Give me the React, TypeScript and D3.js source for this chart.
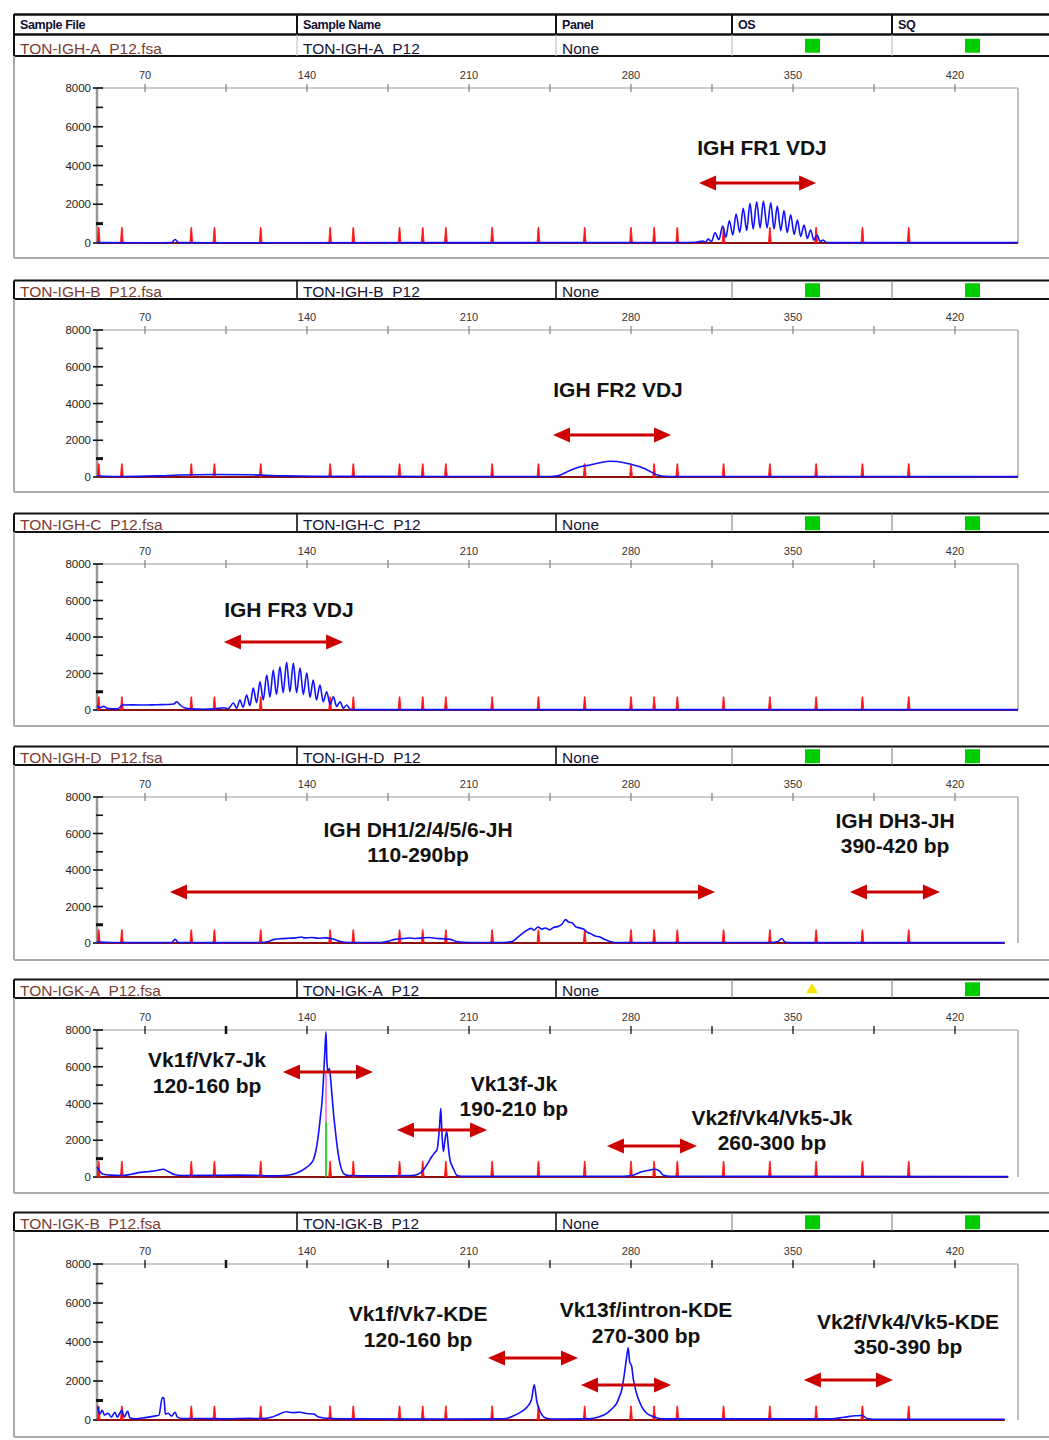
import React from 'react';
import * as d3 from 'd3';

type Pt = [number, number];

// ---------- DATA ----------
const ladderSizes = [50, 60, 90, 100, 120, 150, 160, 180, 190, 200, 220, 240, 260, 280, 290, 300, 320, 340, 360, 380, 400];
const ladderHeights = [800, 720, 720, 720, 850, 720];
const xTickLabels = [70, 140, 210, 280, 350, 420];
const xMinorTicks = [105, 175, 245, 315, 385];
const yTickLabels = [0, 2000, 4000, 6000, 8000];
const yMinorTicks = [1000, 3000, 5000, 7000];

const headerColumns = ['Sample File', 'Sample Name', 'Panel', 'OS', 'SQ'];
const sampleFiles = ['TON-IGH-A_P12.fsa', 'TON-IGH-B_P12.fsa', 'TON-IGH-C_P12.fsa', 'TON-IGH-D_P12.fsa', 'TON-IGK-A_P12.fsa', 'TON-IGK-B_P12.fsa'];
const sampleNames = ['TON-IGH-A_P12', 'TON-IGH-B_P12', 'TON-IGH-C_P12', 'TON-IGH-D_P12', 'TON-IGK-A_P12', 'TON-IGK-B_P12'];
const panelNames = ['None', 'None', 'None', 'None', 'None', 'None'];
const osStatus = ['pass', 'pass', 'pass', 'pass', 'warn', 'pass'];
const sqStatus = ['pass', 'pass', 'pass', 'pass', 'pass', 'pass'];

const traceIGHA: Pt[] = [
  [49.3, 60], [50.5, 20], [70, 15], [81.5, 20], [83, 180], [84.5, 20], [100, 15], [200, 20], [300, 25], [308, 40],
  [311.1, 100], [312.2, 40], [313.3, 200], [314.8, 80], [316.3, 530], [318, 180], [319.6, 880], [321, 300],
  [322.5, 1150], [324, 420], [325.4, 1500], [327, 550], [328.5, 1790], [330, 650], [331.4, 2050], [332.8, 720],
  [334.3, 2130], [335.8, 780], [337.2, 2170], [338.8, 780], [340.4, 2080], [341.8, 720], [343.2, 1910], [344.7, 640],
  [346.1, 1670], [347.5, 540], [349, 1450], [350.5, 440], [351.9, 1190], [353.3, 340], [354.8, 930], [356.2, 240],
  [357.6, 670], [359, 150], [360.4, 410], [361.7, 80], [363, 150], [364.5, 20], [400, 20], [447.2, 20],
];

const traceIGHB: Pt[] = [
  [49.3, 80], [52, 40], [60, 30], [75, 60], [85, 110], [100, 140], [115, 120], [130, 60], [150, 40], [200, 30],
  [245, 30], [248, 60], [250.2, 150], [253, 320], [256, 480], [259, 580], [262.3, 650], [265, 730], [268, 820],
  [271, 860], [274, 840], [277, 780], [280, 690], [283.9, 560], [286.5, 420], [289, 250], [291.2, 120], [294, 40],
  [300, 25], [447.2, 20],
];

const traceIGHC: Pt[] = [
  [49.3, 250], [50.5, 120], [52, 200], [54, 80], [58, 60], [60.5, 270], [65, 280], [70, 270], [75, 290], [80, 300],
  [82.5, 330], [83.7, 450], [85, 300], [87, 120], [90, 60], [95, 40], [100, 60], [104, 120], [106, 80],
  [108.2, 380], [109.6, 100], [111, 550], [112.4, 150], [113.9, 820], [115.3, 250], [116.8, 1200], [118.2, 400],
  [119.7, 1550], [121.1, 550], [122.6, 1920], [124, 700], [125.4, 2190], [126.8, 850], [128.3, 2370], [129.7, 950],
  [131.2, 2620], [132.6, 1000], [134.1, 2570], [135.5, 950], [137, 2300], [138.4, 850], [139.9, 2030], [141.3, 700],
  [142.7, 1640], [144.1, 550], [145.6, 1370], [147, 450], [148.5, 1000], [150, 300], [151.4, 730], [152.8, 200],
  [154.3, 450], [155.7, 100], [157.2, 270], [158.6, 40], [162, 20], [447.2, 20],
];

const traceIGHD: Pt[] = [
  [49.3, 60], [55, 30], [70, 20], [81.5, 30], [83, 200], [84.5, 30], [100, 20], [120, 30], [123.7, 100], [126, 200],
  [129, 240], [132, 260], [135, 280], [137.6, 330], [139, 280], [142, 300], [145, 260], [148, 280], [151, 230],
  [154.5, 80], [158, 30], [172, 30], [175.3, 100], [178, 200], [181, 240], [184, 270], [187, 250], [190, 280],
  [193, 300], [196, 250], [199, 230], [202, 200], [205.1, 60], [210, 30], [225, 30], [228.9, 100], [230.9, 300],
  [232.9, 500], [234.5, 650], [236.9, 800], [238, 700], [239.9, 880], [241.5, 760], [243, 820], [244.8, 720],
  [246.5, 850], [248.8, 920], [250.3, 1050], [251.7, 1280], [253, 1150], [254.7, 1100], [256, 900], [258, 820],
  [259.7, 750], [261, 600], [262.7, 500], [264.5, 380], [266.6, 330], [268.5, 200], [270.6, 100], [273, 30],
  [340, 30], [343.5, 80], [345.1, 250], [346.5, 60], [349, 20], [441.5, 20],
];

const traceIGKA: Pt[] = [
  [49.3, 550], [50.5, 300], [52, 150], [55, 100], [60, 80], [64, 150], [68, 250], [72, 300], [75, 350], [77.8, 420],
  [80, 300], [83, 120], [86, 80], [100, 90], [110, 100], [120, 80], [125, 60], [130, 80], [134, 150], [137, 300],
  [139.5, 500], [141.3, 680], [142.8, 950], [143.8, 1400], [144.6, 2000], [145.3, 2700], [145.9, 3400], [146.5, 4100],
  [147.1, 5300], [147.7, 6800], [148.2, 7900], [148.6, 6300], [149.1, 5700], [149.7, 5900], [150.3, 5200],
  [150.9, 4300], [151.5, 3400], [152.1, 2700], [152.8, 1900], [153.5, 1250], [154.3, 700], [155.2, 330],
  [156.2, 150], [158, 80], [170, 60], [185, 80], [188, 150], [190.3, 380], [192, 700], [193.9, 1100], [195, 1300],
  [196.2, 1500], [197.3, 2800], [197.8, 3740], [198.3, 2400], [198.9, 1380], [199.6, 2000], [200.4, 2470],
  [201.1, 1600], [201.8, 925], [202.7, 600], [203.5, 380], [204.7, 100], [207, 40], [276, 40], [281, 100],
  [284, 260], [287, 350], [290.4, 420], [292.5, 300], [294, 100], [297, 40], [443, 20],
];

const traceIGKB: Pt[] = [
  [49.5, 700], [50.5, 300], [51.5, 500], [52.5, 250], [54, 350], [55.5, 150], [57, 400], [58, 150], [60, 500],
  [61, 150], [62.5, 450], [63.5, 100], [66, 60], [70, 120], [74, 200], [76, 250], [77.5, 1150], [78.2, 1100],
  [78.8, 300], [80, 350], [81.5, 200], [83, 400], [84, 150], [86, 80], [95, 80], [105, 60], [115, 90], [120, 70],
  [125, 150], [128, 300], [131, 420], [134, 380], [137, 400], [140, 330], [143, 300], [145, 150], [150, 80],
  [160, 60], [200, 50], [225, 60], [229, 200], [232, 380], [235, 650], [237, 1050], [238.2, 1800], [239.3, 950],
  [240.7, 450], [242.8, 120], [246, 50], [262, 60], [266, 150], [269.5, 340], [272, 600], [273.8, 850], [275, 1200],
  [276, 1550], [276.8, 2100], [277.4, 2600], [278.2, 3300], [278.8, 3700], [279.4, 3000], [280.3, 2750], [281, 2100],
  [281.7, 1700], [282.8, 1200], [283.9, 870], [285.3, 550], [286.7, 360], [289.6, 180], [293, 60], [366, 60],
  [372, 140], [377, 220], [380, 230], [382, 80], [385, 40], [441.5, 40],
];

const traces: Pt[][] = [traceIGHA, traceIGHB, traceIGHC, traceIGHD, traceIGKA, traceIGKB];

// other-dye marker in IGK-A
const greenMarker = { panel: 4, size: 148.2, green: 3000, magenta: 5600 };

// ---------- LAYOUT ----------
const W = 1049;
const H = 1440;
const colX = [14, 297, 556, 732, 892];
const font = '"Liberation Sans", Arial, Helvetica, sans-serif';

const panelLayouts = [
  { rowTop: 34.5, rowBottom: 56, plotTop: 88, plotBottom: 243, frameBottom: 258, darkTicks: false },
  { rowTop: 280.5, rowBottom: 299, plotTop: 330, plotBottom: 477, frameBottom: 492, darkTicks: false },
  { rowTop: 513.5, rowBottom: 532, plotTop: 564, plotBottom: 710, frameBottom: 726, darkTicks: false },
  { rowTop: 746.5, rowBottom: 765, plotTop: 797, plotBottom: 943, frameBottom: 960, darkTicks: false },
  { rowTop: 979.5, rowBottom: 998, plotTop: 1030, plotBottom: 1177, frameBottom: 1193, darkTicks: true },
  { rowTop: 1212.5, rowBottom: 1231, plotTop: 1264, plotBottom: 1420, frameBottom: 1437, darkTicks: true },
];

type Label = { text: string; x: number; y: number };
type Arrow = { x0: number; x1: number; y: number };
const panelLabels: Label[][] = [
  [{ text: 'IGH FR1 VDJ', x: 336.6, y: 4542 }],
  [{ text: 'IGH FR2 VDJ', x: 274.4, y: 4354 }],
  [{ text: 'IGH FR3 VDJ', x: 132.2, y: 5096 }],
  [
    { text: 'IGH DH1/2/4/5/6-JH', x: 188, y: 5808 },
    { text: '110-290bp', x: 188, y: 4438 },
    { text: 'IGH DH3-JH', x: 394.1, y: 6301 },
    { text: '390-420 bp', x: 394.1, y: 4932 },
  ],
  [
    { text: 'Vk1f/Vk7-Jk', x: 96.8, y: 5986 },
    { text: '120-160 bp', x: 96.8, y: 4571 },
    { text: 'Vk13f-Jk', x: 229.4, y: 4680 },
    { text: '190-210 bp', x: 229.4, y: 3320 },
    { text: 'Vk2f/Vk4/Vk5-Jk', x: 340.9, y: 2830 },
    { text: '260-300 bp', x: 340.9, y: 1469 },
  ],
  [
    { text: 'Vk1f/Vk7-KDE', x: 188, y: 5077 },
    { text: '120-160 bp', x: 188, y: 3744 },
    { text: 'Vk13f/intron-KDE', x: 286.5, y: 5282 },
    { text: '270-300 bp', x: 286.5, y: 3949 },
    { text: 'Vk2f/Vk4/Vk5-KDE', x: 399.7, y: 4667 },
    { text: '350-390 bp', x: 399.7, y: 3385 },
  ],
];
const panelArrows: Arrow[][] = [
  [{ x0: 309.4, x1: 360, y: 3097 }],
  [{ x0: 246.3, x1: 297.3, y: 2286 }],
  [{ x0: 104.1, x1: 155.6, y: 3726 }],
  [{ x0: 80.8, x1: 316.3, y: 2795 }, { x0: 374.6, x1: 413.5, y: 2795 }],
  [{ x0: 129.6, x1: 168.5, y: 5714 }, { x0: 178.9, x1: 217.8, y: 2558 }, { x0: 269.6, x1: 308.5, y: 1687 }],
  [{ x0: 218.2, x1: 257.1, y: 3179 }, { x0: 258.4, x1: 297.3, y: 1795 }, { x0: 354.7, x1: 393.2, y: 2051 }],
];

const x = d3.scaleLinear().domain([70, 420]).range([145, 955]);
const xLeft = 97;
const xRight = 1018;

function StatusMark({ status, cx, y }: { status: string; cx: number; y: number }) {
  if (status === 'warn') {
    return <path d={`M${cx - 6},${y + 11} L${cx},${y + 1} L${cx + 6},${y + 11} Z`} fill="#f5e600" />;
  }
  return <rect x={cx - 7} y={y} width={15} height={14} fill="#00cc00" />;
}

function Panel({ i }: { i: number }) {
  const L = panelLayouts[i];
  const y = d3.scaleLinear().domain([0, 8000]).range([L.plotBottom, L.plotTop]);
  const line = d3.line<Pt>().x((d) => x(d[0])).y((d) => y(d[1])).curve(d3.curveMonotoneX);
  const trace = traces[i];
  const tickColor = L.darkTicks ? '#111' : '#888';
  const lh = ladderHeights[i];
  const spike = d3.line<Pt>().x((d) => x(d[0])).y((d) => y(d[1]));
  const textY = L.rowBottom - 2.5;
  const cellLine = i === 0 ? '#bbb' : '#777';
  return (
    <g>
      {/* data row text (drawn first so the border hides the underscores as in the source) */}
      <text x={20} y={textY} fontSize={15.5} fill="#7a3d33" fontFamily={font}>{sampleFiles[i]}</text>
      <text x={303} y={textY} fontSize={15.5} fill="#15153a" fontFamily={font}>{sampleNames[i]}</text>
      <text x={562} y={textY} fontSize={15.5} fill="#15153a" fontFamily={font}>{panelNames[i]}</text>
      <StatusMark status={osStatus[i]} cx={812} y={L.rowTop + (L.rowBottom - L.rowTop - 14) / 2 + 0.5} />
      <StatusMark status={sqStatus[i]} cx={972} y={L.rowTop + (L.rowBottom - L.rowTop - 14) / 2 + 0.5} />
      <line x1={14} x2={W} y1={L.rowTop} y2={L.rowTop} stroke="#111" strokeWidth={i === 0 ? 2.5 : 2} />
      <line x1={14} x2={W} y1={L.rowBottom} y2={L.rowBottom} stroke="#111" strokeWidth={2.2} />
      <line x1={14} x2={14} y1={L.rowTop} y2={L.rowBottom} stroke="#111" strokeWidth={2} />
      {colX.slice(1).map((cx, k) => (
        <line key={k} x1={cx} x2={cx} y1={L.rowTop} y2={L.rowBottom}
          stroke={k < 2 && i > 0 ? '#111' : cellLine} strokeWidth={k < 2 && i > 0 ? 1.6 : 1} />
      ))}

      {/* outer frame */}
      <line x1={14} x2={14} y1={L.rowBottom} y2={L.frameBottom} stroke="#aaa" strokeWidth={2} />
      <line x1={14} x2={W} y1={L.frameBottom} y2={L.frameBottom} stroke="#aaa" strokeWidth={2} />

      {/* plot frame */}
      <line x1={xLeft} x2={xRight} y1={L.plotTop} y2={L.plotTop} stroke="#999" strokeWidth={1.2} />
      <line x1={xRight} x2={xRight} y1={L.plotTop} y2={L.plotBottom} stroke="#aaa" strokeWidth={1.5} />
      <line x1={xLeft} x2={xLeft} y1={L.plotTop} y2={L.plotBottom} stroke="#999" strokeWidth={2.5} />

      {/* x axis ticks on top */}
      {xTickLabels.map((t) => (
        <g key={'xt' + t}>
          <line x1={x(t)} x2={x(t)} y1={L.plotTop - 4} y2={L.plotTop + 4} stroke={tickColor} strokeWidth={1.3} />
          <text x={x(t)} y={L.plotTop - 9} fontSize={11} fill="#333" textAnchor="middle" fontFamily={font}>{t}</text>
        </g>
      ))}
      {xMinorTicks.map((t) => (
        <line key={'xm' + t} x1={x(t)} x2={x(t)} y1={L.plotTop - 4} y2={L.plotTop + 4} stroke={tickColor}
          strokeWidth={L.darkTicks && t === 105 ? 2.5 : 1.3} />
      ))}
      {/* y axis */}
      {yTickLabels.map((t) => (
        <g key={'yt' + t}>
          <line x1={93} x2={103} y1={y(t)} y2={y(t)} stroke="#111" strokeWidth={1.6} />
          <text x={91} y={y(t) + 4} fontSize={11.5} fill="#222" textAnchor="end" fontFamily={font}>{t}</text>
        </g>
      ))}
      {yMinorTicks.map((t) => (
        <line key={'ym' + t} x1={96} x2={103} y1={y(t)} y2={y(t)} stroke="#111" strokeWidth={t === 1000 ? 3 : 1.6} />
      ))}

      {/* baseline */}
      <line x1={x(trace[0][0])} x2={x(trace[trace.length - 1][0])} y1={y(0)} y2={y(0)} stroke="#8b1010" strokeWidth={2} />

      {/* size-standard peaks */}
      {ladderSizes.map((s) => (
        <path key={'ld' + s}
          d={spike([[s - 0.6, 0], [s - 0.15, lh], [s + 0.15, lh], [s + 0.6, 0]]) || ''}
          fill="#ff1010" stroke="#ff1010" strokeWidth={0.8} />
      ))}

      {greenMarker.panel === i && (
        <line x1={x(greenMarker.size)} x2={x(greenMarker.size)} y1={y(greenMarker.green)} y2={y(greenMarker.magenta)} stroke="#ff33cc" strokeWidth={1.2} />
      )}

      {/* blue trace */}
      <path d={line(trace) || ''} fill="none" stroke="#1010ff" strokeWidth={1.6} strokeLinejoin="round" />

      {greenMarker.panel === i && (
        <line x1={x(greenMarker.size)} x2={x(greenMarker.size)} y1={y(0)} y2={y(greenMarker.green)} stroke="#00cc00" strokeWidth={1.6} />
      )}

      {/* annotations */}
      {panelArrows[i].map((a, k) => {
        const x0 = x(a.x0), x1 = x(a.x1), ay = y(a.y);
        const hl = 17, hh = 7.5;
        return (
          <g key={'ar' + k} fill="#cc0000">
            <line x1={x0 + hl - 2} x2={x1 - hl + 2} y1={ay} y2={ay} stroke="#cc0000" strokeWidth={3} />
            <path d={`M${x0},${ay} L${x0 + hl},${ay - hh} L${x0 + hl},${ay + hh} Z`} />
            <path d={`M${x1},${ay} L${x1 - hl},${ay - hh} L${x1 - hl},${ay + hh} Z`} />
          </g>
        );
      })}
      {panelLabels[i].map((lb, k) => (
        <text key={'lb' + k} x={x(lb.x)} y={y(lb.y)} fontSize={21} fontWeight="bold" fill="#111"
          textAnchor="middle" fontFamily={font}>{lb.text}</text>
      ))}
    </g>
  );
}

export default function App() {
  return (
    <svg width={W} height={H} viewBox={`0 0 ${W} ${H}`}
      style={{ position: 'absolute', left: 0, top: 0, background: '#fff' }}>
      <rect x={0} y={0} width={W} height={H} fill="#fff" />
      {/* header row */}
      <line x1={14} x2={W} y1={14.5} y2={14.5} stroke="#111" strokeWidth={2.5} />
      <line x1={14} x2={14} y1={14} y2={35} stroke="#111" strokeWidth={2} />
      {colX.slice(1).map((cx, k) => (
        <line key={k} x1={cx} x2={cx} y1={14} y2={34} stroke="#111" strokeWidth={2} />
      ))}
      {headerColumns.map((h, k) => (
        <text key={h} x={colX[k] + 6} y={29} fontSize={12.5} fontWeight="bold" fill="#111133"
          fontFamily={font} letterSpacing={-0.4}>{h}</text>
      ))}
      {panelLayouts.map((_, i) => <Panel key={i} i={i} />)}
    </svg>
  );
}
